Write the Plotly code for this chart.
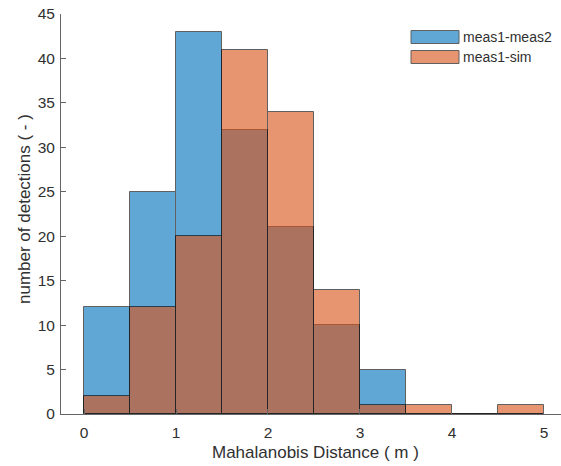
import plotly.graph_objects as go

bin_centers = [0.25, 0.75, 1.25, 1.75, 2.25, 2.75, 3.25, 3.75, 4.25, 4.75]
bin_width = 0.5
meas1_meas2 = [12, 25, 43, 32, 21, 10, 5, 0, 0, 0]
meas1_sim = [2, 12, 20, 41, 34, 14, 1, 1, 0, 1]
series_names = ["meas1-meas2", "meas1-sim"]
x_ticks = [0, 1, 2, 3, 4, 5]
y_ticks = [0, 5, 10, 15, 20, 25, 30, 35, 40, 45]

blue = "rgb(0,114,189)"
orange = "rgb(217,83,25)"
txt = "#303030"
font = "Liberation Sans, Arial, sans-serif"

FW, FH = 561, 466
L, T, W, H = 61, 14, 500, 400


def px(xr):
    return (xr - L) / W


def py(yr):
    return (T + H - yr) / H


fig = go.Figure()
fig.add_trace(go.Bar(x=bin_centers, y=meas1_meas2, width=bin_width, name=series_names[0],
                     marker=dict(color=blue, line=dict(color="black", width=1)), opacity=0.62))
fig.add_trace(go.Bar(x=bin_centers, y=meas1_sim, width=bin_width, name=series_names[1],
                     marker=dict(color=orange, line=dict(color="black", width=1)), opacity=0.62))

# legend drawn as swatches + text
sw = [(series_names[0], blue, 37), (series_names[1], orange, 57)]
for name, col, yc in sw:
    fig.add_shape(type="rect", xref="paper", yref="paper",
                  x0=px(411), x1=px(459), y0=py(yc + 6.5), y1=py(yc - 6.5),
                  fillcolor=col, opacity=0.62, line=dict(color="black", width=1))
    fig.add_annotation(xref="paper", yref="paper", x=px(461), y=py(yc),
                       text=name, showarrow=False, xanchor="left", yanchor="middle",
                       font=dict(family=font, size=14, color=txt))

# axis titles
fig.add_annotation(xref="paper", yref="paper", x=px(315), y=py(453),
                   text="Mahalanobis Distance ( m )", showarrow=False,
                   xanchor="center", yanchor="middle",
                   font=dict(family=font, size=17, color=txt))
fig.add_annotation(xref="paper", yref="paper", x=px(24), y=py(209),
                   text="number of detections ( - )", showarrow=False, textangle=-90,
                   xanchor="center", yanchor="middle",
                   font=dict(family=font, size=17, color=txt))

fig.update_layout(
    width=FW, height=FH,
    margin=dict(l=L, r=FW - L - W, t=T, b=FH - T - H),
    barmode="overlay",
    bargap=0,
    showlegend=False,
    hovermode=False,
    plot_bgcolor="white", paper_bgcolor="white",
    font=dict(family=font, size=15.5, color=txt),
    xaxis=dict(range=[-0.25, 5.185], tickvals=x_ticks, ticks="inside", ticklen=5,
               tickcolor="#666", showline=True, linecolor="#666", linewidth=1,
               showgrid=False, zeroline=False, mirror=False, automargin=False,
               ticklabelstandoff=4),
    yaxis=dict(range=[0, 45], tickvals=y_ticks, ticks="inside", ticklen=5,
               tickcolor="#666", showline=True, linecolor="#666", linewidth=1,
               showgrid=False, zeroline=False, mirror=False, automargin=False,
               ticklabelstandoff=2),
)

fig.write_html("out.html", config={"displayModeBar": False},
               post_script="document.body.style.margin='0px';document.body.style.overflow='hidden';")
